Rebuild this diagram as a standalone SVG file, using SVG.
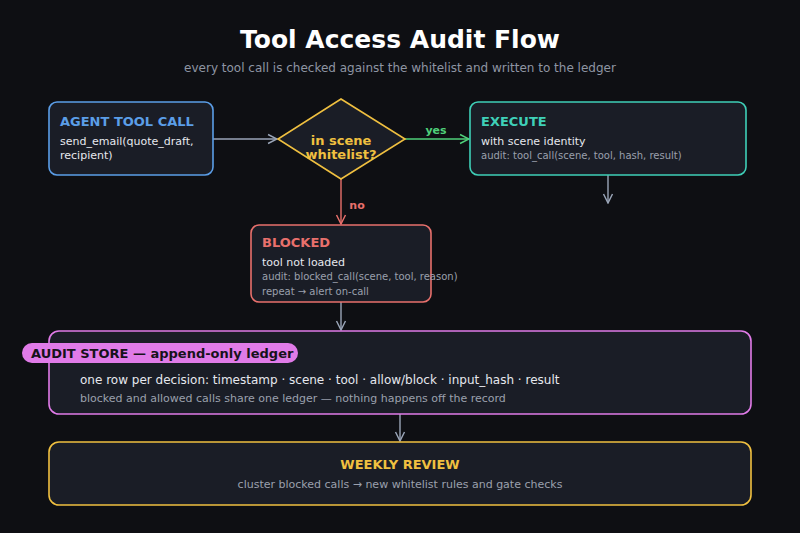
<svg xmlns="http://www.w3.org/2000/svg" width="800" height="533" viewBox="0 0 800 533">
<style>
text{font-family:"DejaVu Sans","Liberation Sans",sans-serif}
.box{fill:#1a1d26;stroke-width:1.6}
.h{font-weight:bold;font-size:13px}
.t{fill:#e6e8ee;font-size:11px}
.s{fill:#9aa0ad;font-size:10px}
.c{fill:none;stroke-width:1.4}
</style>
<defs>
<marker id="ag" viewBox="0 0 10 10" refX="9" refY="5" markerWidth="8" markerHeight="8" orient="auto"><path d="M1,1L9,5L1,9" fill="none" stroke="#9aa5b8" stroke-width="1.3"/></marker>
<marker id="ay" viewBox="0 0 10 10" refX="9" refY="5" markerWidth="8" markerHeight="8" orient="auto"><path d="M1,1L9,5L1,9" fill="none" stroke="#4fd07a" stroke-width="1.3"/></marker>
<marker id="an" viewBox="0 0 10 10" refX="9" refY="5" markerWidth="8" markerHeight="8" orient="auto"><path d="M1,1L9,5L1,9" fill="none" stroke="#e8706c" stroke-width="1.3"/></marker>
</defs>
<rect width="800" height="533" fill="#0e0f13"/>
<text x="400" y="48" text-anchor="middle" font-size="25" font-weight="bold" fill="#ffffff">Tool Access Audit Flow</text>
<text x="400" y="72" text-anchor="middle" font-size="12" fill="#8e95a3">every tool call is checked against the whitelist and written to the ledger</text>
<g id="connectors">
<line class="c" x1="213" y1="139" x2="277" y2="139" stroke="#9aa5b8" marker-end="url(#ag)"/>
<line class="c" x1="405" y1="139" x2="469" y2="139" stroke="#4fd07a" marker-end="url(#ay)"/>
<text x="436" y="134" text-anchor="middle" font-size="11" font-weight="bold" fill="#4fd07a">yes</text>
<line class="c" x1="341" y1="179" x2="341" y2="224" stroke="#e8706c" marker-end="url(#an)"/>
<text x="357" y="209" text-anchor="middle" font-size="11" font-weight="bold" fill="#e8706c">no</text>
<line class="c" x1="608" y1="175" x2="608" y2="203" stroke="#9aa5b8" marker-end="url(#ag)"/>
<line class="c" x1="341" y1="302" x2="341" y2="330" stroke="#9aa5b8" marker-end="url(#ag)"/>
<line class="c" x1="400" y1="414" x2="400" y2="441" stroke="#9aa5b8" marker-end="url(#ag)"/>
</g>
<g id="agent">
<rect class="box" x="49" y="102" width="164" height="73" rx="8" stroke="#5b9ee8"/>
<text x="60" y="126" class="h" fill="#5b9ee8">AGENT TOOL CALL</text>
<text x="60" y="145" class="t">send_email(quote_draft,</text>
<text x="60" y="159" class="t">recipient)</text>
</g>
<g id="decision">
<polygon points="341,99 405,139 341,179 278,139" fill="#1a1d26" stroke="#f0c040" stroke-width="1.6"/>
<text x="341" y="145" text-anchor="middle" class="h" fill="#f0c040">in scene</text>
<text x="341" y="159" text-anchor="middle" class="h" fill="#f0c040">whitelist?</text>
</g>
<g id="execute">
<rect class="box" x="470" y="102" width="276" height="73" rx="8" stroke="#3fd0b8"/>
<text x="481" y="126" class="h" fill="#3fd0b8">EXECUTE</text>
<text x="481" y="145" class="t">with scene identity</text>
<text x="481" y="159" class="s">audit: tool_call(scene, tool, hash, result)</text>
</g>
<g id="blocked">
<rect class="box" x="251" y="225" width="180" height="77" rx="8" stroke="#e8706c"/>
<text x="262" y="247" class="h" fill="#e8706c">BLOCKED</text>
<text x="262" y="266" class="t">tool not loaded</text>
<text x="262" y="280" class="s">audit: blocked_call(scene, tool, reason)</text>
<text x="262" y="295" class="s">repeat → alert on-call</text>
</g>
<g id="audit-store">
<rect class="box" x="49" y="331" width="702" height="83" rx="10" stroke="#e07be8"/>
<rect x="22" y="343" width="276" height="20" rx="10" fill="#e07be8"/>
<text x="31" y="358" font-size="13" font-weight="bold" fill="#16121a">AUDIT STORE — append-only ledger</text>
<text x="80" y="384" class="t" font-size="12" style="font-size:12px">one row per decision: timestamp · scene · tool · allow/block · input_hash · result</text>
<text x="80" y="402" class="s" style="font-size:11px">blocked and allowed calls share one ledger — nothing happens off the record</text>
</g>
<g id="weekly-review">
<rect class="box" x="49" y="442" width="702" height="63" rx="10" stroke="#f0c040"/>
<text x="400" y="469" text-anchor="middle" class="h" fill="#f0c040">WEEKLY REVIEW</text>
<text x="400" y="488" text-anchor="middle" class="s" style="font-size:11px">cluster blocked calls → new whitelist rules and gate checks</text>
</g>
</svg>
